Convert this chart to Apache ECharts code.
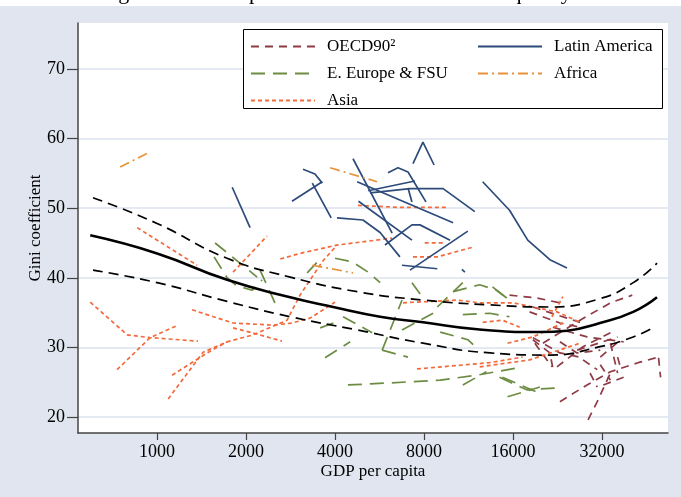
<!DOCTYPE html>
<html><head><meta charset="utf-8">
<script src="https://cdn.jsdelivr.net/npm/echarts@6/dist/echarts.min.js"></script>
<style>html,body{margin:0;padding:0;background:#e0e5ef}#c{width:681px;height:497px}</style>
</head><body><div id="c"></div>
<script>
// ---- data (GDP per capita, Gini) ----
const xTickValues = [1000, 2000, 4000, 8000, 16000, 32000];
const yTickValues = [20, 30, 40, 50, 60, 70];
const xRange = [540, 53500];
const yRange = [17.7, 76.6];

const fitMidGdp  = [594, 1000, 1725, 2820, 3940, 5680, 7940, 12100, 19800, 24400, 31500, 40800, 49100];
const fitMidGini = [46.1, 43.5, 39.7, 37.2, 35.8, 34.4, 33.6, 32.6, 32.2, 32.4, 33.5, 35.1, 37.2];
const fitUpGdp   = [607, 1000, 1725, 2820, 4750, 7940, 13400, 21300, 31500, 40800, 49100];
const fitUpGini  = [51.5, 47.8, 42.8, 40.1, 38.0, 36.8, 36.1, 35.8, 37.0, 39.3, 42.1];
const fitLoGdp   = [607, 1000, 1725, 2820, 4750, 7940, 13400, 21300, 31500, 40800, 47500];
const fitLoGini  = [41.1, 39.3, 36.6, 34.4, 32.5, 30.6, 29.2, 28.9, 30.1, 31.5, 32.8];

const africa = [
  [[750,55.9],[947,58.1]],
  [[3850,55.8],[5550,53.8]],
  [[3350,41.8],[4600,40.7]]
];
const latinAmerica = [
  [[1795,53.0],[2063,47.2]],
  [[2860,51.0],[3620,53.8]],
  [[3115,55.6],[3420,54.9],[3620,53.6]],
  [[3350,53.6],[3880,48.6]],
  [[4600,57.1],[6240,46.4]],
  [[7340,56.4],[7930,59.5],[8650,56.2]],
  [[6040,55.1],[6530,55.8],[7060,55.2],[8120,50.9]],
  [[5180,52.5],[7450,53.9]],
  [[5260,52.2],[7170,52.8],[9280,52.8],[11880,49.5]],
  [[4750,53.8],[10030,47.9]],
  [[4800,51.0],[7280,45.4]],
  [[4060,48.6],[4970,48.3],[5680,46.5],[6630,43.0]],
  [[5900,44.7],[7280,47.6],[7750,47.6],[9800,45.4]],
  [[7170,41.1],[11250,46.7]],
  [[6740,41.8],[8870,41.3]],
  [[10740,41.2],[11000,40.8]],
  [[12630,53.8],[15570,49.7],[17940,45.4],[21320,42.6],[24350,41.4]],
  [[7060,52.9],[7280,50.9]]
];
const asia = [
  [[856,47.2],[1366,41.8]],
  [[1807,40.8],[2355,46.0]],
  [[1090,22.6],[1431,29.3],[1725,30.8],[2112,31.8],[2751,33.9],[3044,37.5],[3618,42.3],[4063,44.7]],
  [[1124,26.0],[1476,29.2],[1725,30.8]],
  [[594,36.5],[792,31.8],[947,31.4],[1376,30.9]],
  [[732,26.8],[947,31.4],[1178,33.2]],
  [[1313,35.4],[1807,33.5],[2468,33.2],[2861,33.5],[3294,34.2],[4000,36.5]],
  [[1807,32.8],[2096,32.1],[2645,30.9]],
  [[2610,42.7],[3044,43.5],[4063,44.7],[6235,45.7]],
  [[4780,50.4],[6630,50.1],[9580,50.1]],
  [[8040,45.0],[9280,45.0]],
  [[7340,43.0],[8870,43.0],[11700,44.4]],
  [[6790,36.4],[10340,36.8],[12340,36.4],[16000,36.4],[18670,35.8],[22520,35.1],[26960,33.6]],
  [[12630,33.6],[14730,33.9],[16850,32.9]],
  [[7570,26.9],[13340,27.8],[17240,28.6]],
  [[15330,30.6],[18670,31.5],[23600,33.5]],
  [[12340,27.2],[18200,28.2],[26960,30.6]],
  [[21650,34.4],[23600,37.3]]
];
const eEurope = [
  [[1571,45.0],[2180,40.1]],
  [[1559,43.0],[1725,40.0],[1850,38.9],[2096,38.2],[2266,39.7]],
  [[2230,41.1],[2547,35.7]],
  [[3219,40.7],[3618,43.0]],
  [[4000,42.8],[4568,42.3],[5179,40.8],[5684,39.3]],
  [[3563,32.8],[4000,33.6]],
  [[3700,28.5],[4500,30.8]],
  [[4258,34.4],[5343,32.1]],
  [[5773,29.6],[6740,36.8]],
  [[5773,29.6],[7060,28.6]],
  [[7280,39.3],[8030,36.8]],
  [[8870,35.8],[10820,39.3]],
  [[10030,38.0],[12340,39.0],[14070,38.2],[15570,36.8]],
  [[10820,34.7],[13340,34.9],[15570,34.4]],
  [[9070,32.2],[11250,31.1],[12060,29.9]],
  [[4420,24.6],[6139,24.9],[9070,25.3],[12060,26.0],[17240,27.2]],
  [[10820,24.6],[13000,26.5]],
  [[14730,25.7],[19720,23.4]],
  [[15330,22.9],[19720,24.3]],
  [[13640,38.7],[15210,37.1]],
  [[14400,25.7],[17800,23.9],[23050,24.2]],
  [[6740,32.5],[8590,34.9]]
];
const oecd = [
  [[15570,37.5],[19270,37.1],[23050,36.4]],
  [[18200,35.1],[23050,33.5],[27600,32.8]],
  [[18670,31.4],[23050,29.2],[26960,28.6]],
  [[18960,30.6],[21650,27.2]],
  [[20190,30.6],[26960,33.9],[34160,36.4],[40500,37.5]],
  [[22520,27.2],[27600,30.1],[34160,32.1]],
  [[23050,22.2],[28480,24.6],[34160,26.5],[42400,27.8],[49700,28.6]],
  [[28700,19.6],[30830,22.2],[34160,26.3]],
  [[49700,28.5],[50500,25.7]],
  [[18670,35.8],[24350,34.2],[26960,33.6]],
  [[21820,32.9],[28480,31.5],[37870,30.8]],
  [[18670,31.1],[21320,29.2],[21820,27.0]],
  [[23050,30.8],[26340,29.2],[31570,29.6]],
  [[31570,28.6],[36990,31.1]],
  [[34160,30.6],[36130,26.3]],
  [[36130,28.6],[36990,27.0]],
  [[29160,26.3],[30830,24.3]],
  [[26340,29.6],[36130,31.5]],
  [[31570,27.5],[34160,25.3]],
  [[32320,24.6],[37870,25.7]],
  [[27600,28.2],[30830,26.8]]
];

// ---- build ----
const L2 = v => Math.log2(v);
const FONT = 'Liberation Serif';
const groups = [
  {name:'OECD90²', segs:oecd, color:'#8e3b45', dash:[8,6]},
  {name:'E. Europe & FSU', segs:eEurope, color:'#6c8c42', dash:[14,8]},
  {name:'Asia', segs:asia, color:'#f26a3c', dash:[4,3]},
  {name:'Latin America', segs:latinAmerica, color:'#2c4b7b', dash:'solid'},
  {name:'Africa', segs:africa, color:'#e8923a', dash:[10,4,2,4]}
];
const series = [];
groups.forEach(g => {
  g.segs.forEach(seg => {
    series.push({
      type:'line', name:g.name, symbol:'none', silent:true, animation:false,
      data: seg.map(p => [L2(p[0]), p[1]]),
      lineStyle:{color:g.color, width:1.7, type:g.dash}, itemStyle:{color:g.color}
    });
  });
});
function fit(gdp, gini, type, width){
  return {type:'line', name:'fit', symbol:'none', smooth:true, silent:true, animation:false, z:5,
    data: gdp.map((v,i)=>[L2(v), gini[i]]),
    lineStyle:{color:'#000', width:width, type:type}};
}
series.push(fit(fitUpGdp, fitUpGini, [10,6], 1.7));
series.push(fit(fitLoGdp, fitLoGini, [10,6], 1.7));
series.push(fit(fitMidGdp, fitMidGini, 'solid', 2.6));

const legendCommon = {top:38, orient:'vertical', padding:0, itemGap:10, itemWidth:64, itemHeight:15, z:10,
  itemStyle:{opacity:0},
  textStyle:{fontFamily:FONT, fontSize:17, color:'#000', padding:[0,0,0,7]}};

const chart = echarts.init(document.getElementById('c'), null, {renderer:'canvas'});
chart.setOption({
  backgroundColor:'#e0e5ef',
  animation:false,
  textStyle:{fontFamily:FONT},
  grid:{left:78, right:13, top:23, bottom:64, show:true, backgroundColor:'#fff', borderWidth:0},
  xAxis:{
    type:'value', min:L2(xRange[0]), max:L2(xRange[1]),
    name:'GDP per capita', nameLocation:'middle', nameGap:30, nameMoveOverlap:false,
    nameTextStyle:{fontFamily:FONT, fontSize:17, color:'#000'},
    axisLine:{show:true, onZero:false, lineStyle:{color:'#444', width:1.5}},
    axisTick:{show:true, length:7, customValues:xTickValues.map(L2), lineStyle:{color:'#444', width:1.2}},
    axisLabel:{customValues:xTickValues.map(L2), margin:10, fontFamily:FONT, fontSize:18, color:'#000',
      formatter: v => String(Math.round(Math.pow(2, v)))},
    splitLine:{show:false}
  },
  yAxis:{
    type:'value', min:yRange[0], max:yRange[1],
    name:'Gini coefficient', nameLocation:'middle', nameGap:34, nameRotate:90, nameMoveOverlap:false,
    nameTextStyle:{fontFamily:FONT, fontSize:17, color:'#000'},
    axisLine:{show:true, onZero:false, lineStyle:{color:'#444', width:1.5}},
    axisTick:{show:true, length:11, customValues:yTickValues, lineStyle:{color:'#444', width:1.2}},
    axisLabel:{customValues:yTickValues, margin:13, fontFamily:FONT, fontSize:18, color:'#000'},
    splitLine:{show:true, lineStyle:{color:'#dde3ee', width:1.5}}
  },
  legend:[
    Object.assign({left:250, data:['OECD90²','E. Europe & FSU','Asia']}, legendCommon),
    Object.assign({left:477, data:['Latin America','Africa']}, legendCommon)
  ],
  graphic:[
    {type:'rect', left:0, top:0, z:0, shape:{width:681, height:6}, style:{fill:'#fff'}},
    {type:'text', x:100, y:-18, z:1, style:{text:'Figure 2: Development and overall income inequality', font:'22px "Liberation Serif"', fill:'#000'}},
    {type:'rect', x:243.5, y:29.5, z:8, shape:{width:419, height:79}, style:{fill:'#fff', stroke:'#000', lineWidth:1}}
  ],
  series: series
});
</script></body></html>
